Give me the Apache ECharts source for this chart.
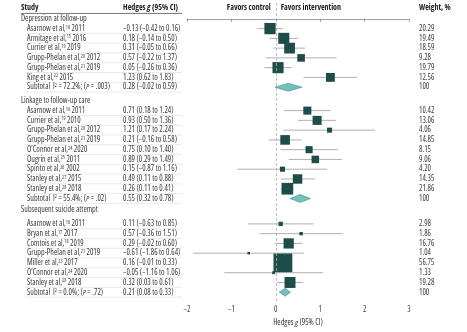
<!DOCTYPE html>
<html>
<head>
<meta charset="utf-8">
<script src="https://cdn.jsdelivr.net/npm/echarts@6/dist/echarts.min.js"></script>
<style>
  html, body { margin: 0; padding: 0; background: #fff; }
  #chart { width: 467px; height: 332px; }
</style>
</head>
<body>
<div id="chart"></div>
<script>
// forest plot data
const groupTitles = ['Depression at follow-up', 'Linkage to follow-up care', 'Subsequent suicide attempt']

const depStudies = [['Asarnow et al,', '16', '2011'], ['Armitage et al,', '15', '2016'], ['Currier et al,', '19', '2019'],
  ['Grupp-Phelan et al,', '20', '2012'], ['Grupp-Phelan et al,', '21', '2019'], ['King et al,', '22', '2015']]
const depG = [-0.13, 0.18, 0.31, 0.57, 0.05, 1.23]
const depLo = [-0.42, -0.14, -0.05, -0.22, -0.26, 0.62]
const depHi = [0.16, 0.50, 0.66, 1.37, 0.36, 1.83]
const depWeight = [20.29, 19.49, 18.59, 9.28, 19.79, 12.56]

const linkStudies = [['Asarnow et al,', '16', '2011'], ['Currier et al,', '19', '2010'], ['Grupp-Phelan et al,', '20', '2012'],
  ['Grupp-Phelan et al,', '21', '2019'], ['O\u2019Connor et al,', '24', '2020'], ['Ougrin et al,', '25', '2011'],
  ['Spirito et al,', '26', '2002'], ['Stanley et al,', '27', '2015'], ['Stanley et al,', '28', '2018']]
const linkG = [0.71, 0.93, 1.21, 0.21, 0.75, 0.89, 0.15, 0.49, 0.26]
const linkLo = [0.18, 0.50, 0.17, -0.16, 0.10, 0.29, -0.87, 0.11, 0.11]
const linkHi = [1.24, 1.36, 2.24, 0.58, 1.40, 1.49, 1.16, 0.88, 0.41]
const linkWeight = [10.42, 13.06, 4.06, 14.85, 8.15, 9.06, 4.20, 14.35, 21.86]

const suiStudies = [['Asarnow et al,', '16', '2011'], ['Bryan et al,', '17', '2017'], ['Comtois et al,', '18', '2019'],
  ['Grupp-Phelan et al,', '21', '2019'], ['Miller et al,', '23', '2017'], ['O\u2019Connor et al,', '24', '2020'],
  ['Stanley et al,', '28', '2018']]
const suiG = [0.11, 0.57, 0.29, -0.61, 0.16, -0.05, 0.32]
const suiLo = [-0.63, -0.36, -0.02, -1.86, -0.01, -1.16, 0.03]
const suiHi = [0.85, 1.51, 0.60, 0.64, 0.33, 1.06, 0.61]
const suiWeight = [2.98, 1.86, 16.76, 1.04, 56.75, 1.33, 19.28]

const subtotalI2 = ['72.2%', '55.4%', '0.0%']
const subtotalP = ['.003', '.02', '.72']
const subtotalG = [0.28, 0.55, 0.21]
const subtotalLo = [-0.02, 0.32, 0.08]
const subtotalHi = [0.59, 0.78, 0.33]

const xTicks = [-2, -1, 0, 1, 2, 3]

// row layout (in row units)
const gapBefore = [0, 1.4, 1.2]
const gapAfter = [1, 1, 1.4]

const groups = [
  { studies: depStudies, g: depG, lo: depLo, hi: depHi, w: depWeight },
  { studies: linkStudies, g: linkG, lo: linkLo, hi: linkHi, w: linkWeight },
  { studies: suiStudies, g: suiG, lo: suiLo, hi: suiHi, w: suiWeight }
]

const rows = [{ type: 'header', pos: -1.1, g: 0 }]
let pos = 0
groups.forEach((grp, k) => {
  pos += gapBefore[k]
  rows.push({ type: 'title', pos: pos, g: 0, text: groupTitles[k] })
  pos += gapAfter[k]
  grp.studies.forEach((s, i) => {
    rows.push({ type: 'study', pos: pos, label: s, g: grp.g[i], lo: grp.lo[i], hi: grp.hi[i], w: grp.w[i] })
    pos += 1
  })
  rows.push({ type: 'subtotal', pos: pos, i2: subtotalI2[k], p: subtotalP[k],
    g: subtotalG[k], lo: subtotalLo[k], hi: subtotalHi[k], w: 100 })
})

// condensed Open Sans is close to the figure's font
const FONT = '"Open Sans", sans-serif'
const NARROW = 'condensed'
const FS = 8
const TXT = '#3a3a3a'
const COL_STUDY = 27
const COL_TITLE = 21
const COL_CI = 123
const COL_W = 419
const SEP_END = 182

function num(v) {
  return (v < 0 ? '\u2212' : '') + Math.abs(v).toFixed(2)
}
function ciText(r) {
  return num(r.g) + ' (' + num(r.lo) + ' to ' + num(r.hi) + ')'
}

const richBase = {
  t: { fontSize: FS, fontFamily: FONT, fontStyle: NARROW, fill: TXT },
  s: { fontSize: 5, fontFamily: FONT, fontStyle: NARROW, fill: TXT, verticalAlign: 'top' },
  i: { fontSize: FS, fontFamily: FONT, fontStyle: NARROW + ' italic', fill: TXT },
  b: { fontSize: FS, fontFamily: FONT, fontStyle: NARROW, fill: '#222', fontWeight: 'bold' },
  bi: { fontSize: FS, fontFamily: FONT, fontStyle: NARROW + ' italic', fill: '#222', fontWeight: 'bold' }
}

function txt(x, y, text, align) {
  return {
    type: 'text',
    style: { x: x, y: y, text: text, rich: richBase, align: align || 'left', verticalAlign: 'middle',
      fontSize: FS, fontFamily: FONT, fontStyle: NARROW, fill: TXT }
  }
}
function hline(x1, x2, y, color, w) {
  return { type: 'line', shape: { x1: x1, y1: y, x2: x2, y2: y }, style: { stroke: color, lineWidth: w } }
}

function renderRow(params, api) {
  const r = rows[params.dataIndex]
  const y = api.coord([0, api.value(1)])[1]
  const half = api.size([0, 1])[1] / 2
  const children = []
  if (r.type === 'header') {
    const x0 = api.coord([0, 0])[0]
    children.push(txt(COL_TITLE, y, '{b|Study}'))
    children.push(txt(COL_CI, y, '{b|Hedges }{bi|g}{b| (95% CI)}'))
    children.push(txt(x0 - 5, y, '{b|Favors control}', 'right'))
    children.push(txt(x0 + 5, y, '{b|Favors intervention}'))
    children.push(txt(COL_W, y, '{b|Weight, %}'))
    children.push(hline(COL_TITLE, SEP_END, y + half * 1.1, '#555', 0.8))
    return { type: 'group', children: children }
  }
  if (r.type === 'title') {
    children.push(txt(COL_TITLE, y, '{t|' + r.text + '}'))
    return { type: 'group', children: children }
  }
  const xl = api.coord([r.lo, 0])[0]
  const xh = api.coord([r.hi, 0])[0]
  const xg = api.coord([r.g, 0])[0]
  if (r.type === 'study') {
    children.push(txt(COL_STUDY, y, '{t|' + r.label[0] + '}{s|' + r.label[1] + '}{t| ' + r.label[2] + '}'))
    children.push(txt(COL_W, y, '{t|' + r.w.toFixed(2) + '}'))
    children.push({ type: 'line', shape: { x1: xl, y1: y, x2: xh, y2: y }, style: { stroke: '#9c9c9c', lineWidth: 0.8 } })
    const s = 2.5 * Math.sqrt(r.w)
    children.push({ type: 'rect', shape: { x: xg - s / 2, y: y - s / 2, width: s, height: s }, style: { fill: '#1e4d49' } })
  } else {
    children.push(txt(COL_STUDY, y, '{t|Subtotal  I}{s|2}{t| = ' + r.i2 + '; (}{i|P}{t| = ' + r.p + ')}'))
    children.push(txt(COL_W, y, '{t|100}'))
    children.push({
      type: 'polygon',
      shape: { points: [[xl, y], [xg, y - 4], [xh, y], [xg, y + 4]] },
      style: { fill: '#72c2bb', stroke: '#3f8f89', lineWidth: 0.6 }
    })
  }
  children.unshift(txt(COL_CI, y, '{t|' + ciText(r) + '}'))
  children.unshift(hline(COL_STUDY - 2, SEP_END, y + half, '#dcdcdc', 0.6))
  return { type: 'group', children: children }
}

const chart = echarts.init(document.getElementById('chart'))
chart.setOption({
  animation: false,
  grid: { left: 187, right: 58, top: 3, bottom: 26 },
  xAxis: {
    type: 'value',
    min: xTicks[0],
    max: xTicks[xTicks.length - 1],
    interval: 1,
    splitLine: { show: false },
    axisLine: { lineStyle: { color: '#8a8a8a', width: 0.8 } },
    axisTick: { length: 3, lineStyle: { color: '#8a8a8a', width: 0.8 } },
    axisLabel: {
      fontSize: FS, fontFamily: FONT, fontStyle: NARROW, color: '#444', margin: 4,
      formatter: v => (v < 0 ? '\u2212' : '') + Math.abs(v)
    },
    name: '{t|Hedges }{i|g}{t| (95% CI)}',
    nameLocation: 'middle',
    nameGap: 17,
    nameTextStyle: {
      rich: {
        t: { fontSize: FS, fontFamily: FONT, fontStyle: NARROW, color: '#333' },
        i: { fontSize: FS, fontFamily: FONT, fontStyle: NARROW + ' italic', color: '#333' }
      }
    }
  },
  yAxis: {
    type: 'value',
    inverse: true,
    min: -1.62,
    max: 29,
    show: false
  },
  series: [{
    type: 'custom',
    clip: false,
    renderItem: renderRow,
    data: rows.map(r => [r.g, r.pos]),
    encode: { x: 0, y: 1 },
    silent: true,
    markLine: {
      silent: true,
      symbol: 'none',
      label: { show: false },
      lineStyle: { type: [3, 2], color: '#b0b0b0', width: 0.8 },
      data: [{ xAxis: 0 }]
    },
    z: 3
  }]
})
</script>
</body>
</html>
